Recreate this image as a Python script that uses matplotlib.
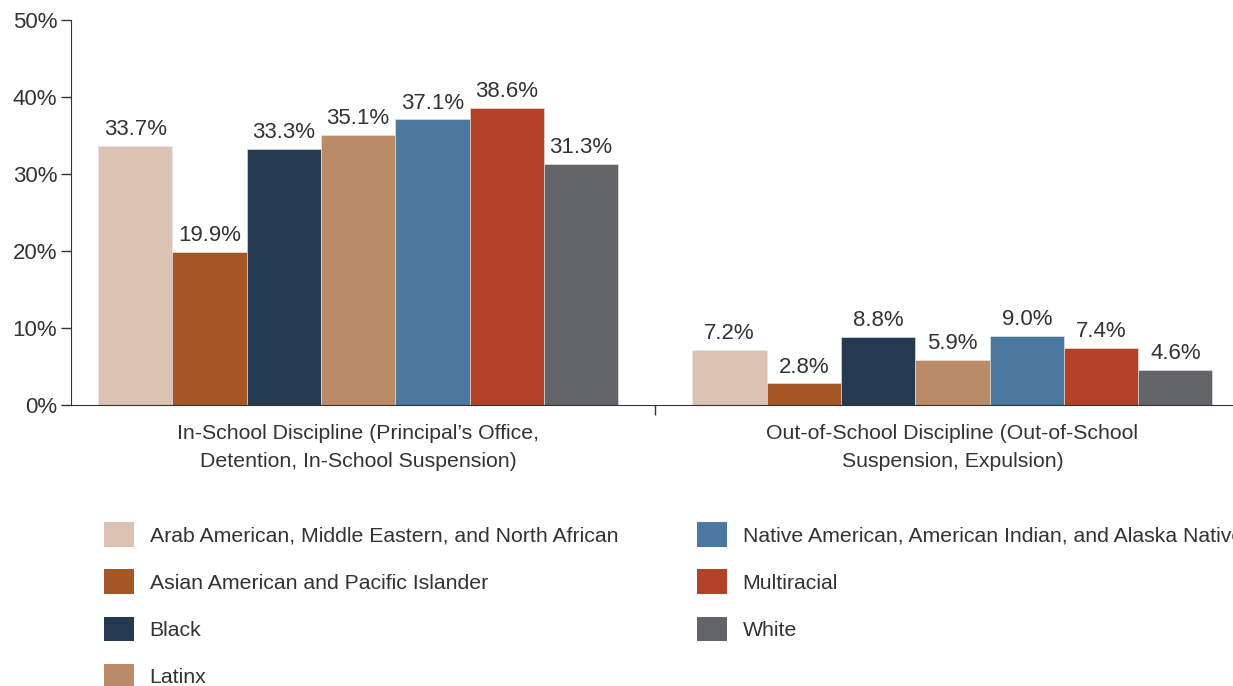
import numpy as np
import matplotlib.pyplot as plt
from matplotlib.patches import Patch

plt.rcParams['font.family'] = ['Liberation Sans', 'DejaVu Sans']

categories = ['In-School Discipline (Principal\u2019s Office,\nDetention, In-School Suspension)',
              'Out-of-School Discipline (Out-of-School\nSuspension, Expulsion)']
groups = ['Arab American, Middle Eastern, and North African',
          'Asian American and Pacific Islander',
          'Black',
          'Latinx',
          'Native American, American Indian, and Alaska Native',
          'Multiracial',
          'White']
in_school = [33.7, 19.9, 33.3, 35.1, 37.1, 38.6, 31.3]
out_school = [7.2, 2.8, 8.8, 5.9, 9.0, 7.4, 4.6]
colors = ['#dbc2b2', '#a55627', '#243a51', '#bb8b68', '#4b789e', '#b14127', '#636468']

txt = '#333333'
fig = plt.figure(figsize=(12.33, 6.86), dpi=100)
ax = fig.add_axes([71/1233, 1 - 405/686, (1233-71)/1233, (405-20)/686])

x = np.arange(len(categories))
w = 0.125
for i, g in enumerate(groups):
    vals = [in_school[i], out_school[i]]
    pos = x + (i - 3) * w
    ax.bar(pos, vals, w, color=colors[i], edgecolor='#e8e8e8', linewidth=0.4, label=g)
    for xp, v in zip(pos, vals):
        ax.text(xp, v + 0.75, '%.1f%%' % v, ha='center', va='bottom', fontsize=16, color=txt)

ax.set_xlim(-0.483, 1.472)
ax.set_ylim(0, 50)
ax.set_yticks([0, 10, 20, 30, 40, 50])
ax.set_yticklabels(['%d%%' % t for t in [0, 10, 20, 30, 40, 50]], fontsize=16, color=txt)
ax.set_xticks([0.5])
ax.set_xticklabels([''])
ax.tick_params(axis='y', length=7, width=1, color='#333333', pad=3)
ax.tick_params(axis='x', length=7, width=1, color='#333333')
for s in ['top', 'right']:
    ax.spines[s].set_visible(False)
ax.spines['left'].set_color('#333333')
ax.spines['bottom'].set_color('#333333')

for xi, c in zip(x, categories):
    ax.text(xi, -2.5, c, ha='center', va='top', fontsize=15.3, color=txt,
            linespacing=1.55, transform=ax.transData)

handles = [Patch(facecolor=c) for c in colors]
leg_kw = dict(loc='upper left', frameon=False, fontsize=15.3, handlelength=1.4, handleheight=1.4,
              labelspacing=1.07, handletextpad=0.75, labelcolor=txt, borderpad=0, borderaxespad=0)
leg1 = fig.legend(handles[:4], groups[:4], bbox_to_anchor=(104/1233, 1 - 522/686), **leg_kw)
leg2 = fig.legend(handles[4:], groups[4:], bbox_to_anchor=(697/1233, 1 - 522/686), **leg_kw)

plt.savefig('out.png', dpi=100)
